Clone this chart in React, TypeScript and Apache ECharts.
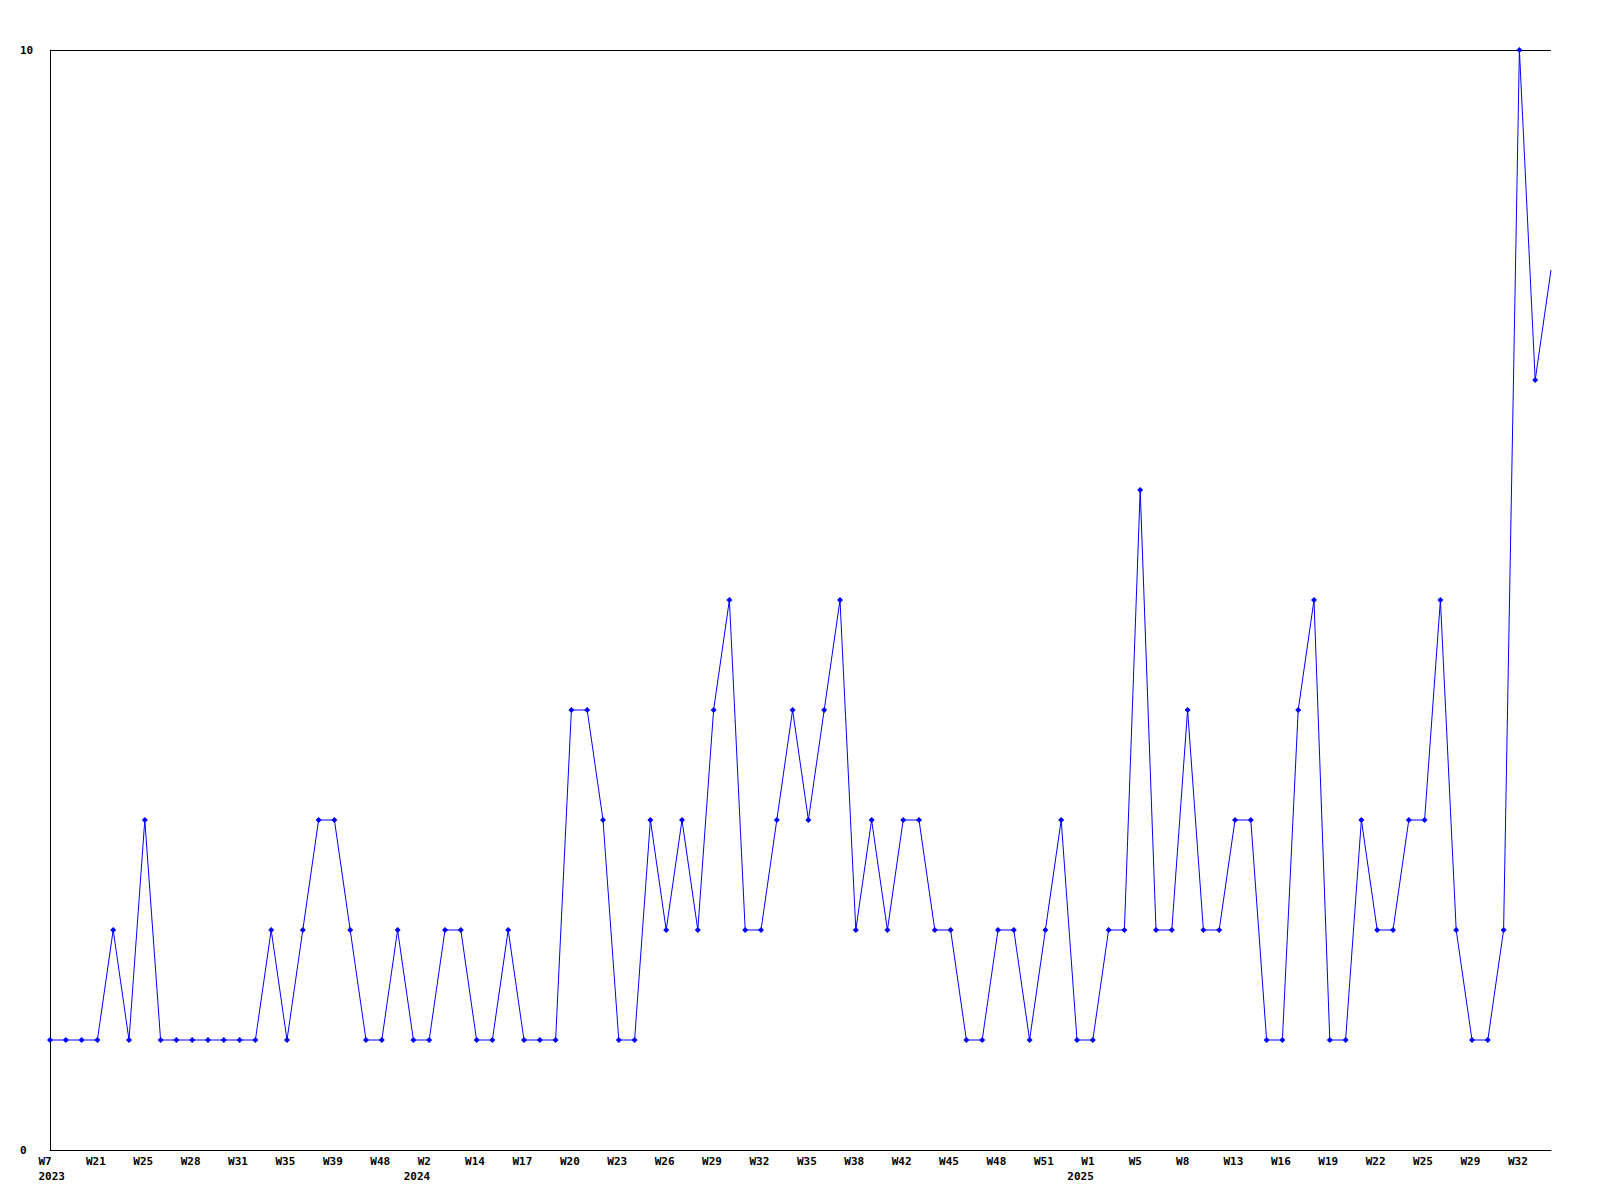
import { useEffect, useRef } from "react";
import * as echarts from "echarts";

// Week categories (only weeks that have data), grouped by year
const weeks2023 = ["W7","W15","W19","W21","W22","W24","W25","W26","W27","W28","W29","W30","W31","W32","W34","W35","W36","W37","W39","W41","W45","W48","W50","W52"];
const weeks2024 = ["W2","W6","W10","W14","W15","W16","W17","W18","W19","W20","W21","W22","W23","W24","W25","W26","W27","W28","W29","W30","W31","W32","W33","W34","W35","W36","W37","W38","W39","W41","W42","W43","W44","W45","W46","W47","W48","W49","W50","W51","W52","W53"];
const weeks2025 = ["W1","W2","W4","W5","W6","W7","W8","W10","W12","W13","W14","W15","W16","W17","W18","W19","W20","W21","W22","W23","W24","W25","W26","W28","W29","W30","W31","W32","W33","W34"];

// Weekly counts
const counts = [
  1, 1, 1, 1, 2, 1, 3, 1, 1, 1,
  1, 1, 1, 1, 2, 1, 2, 3, 3, 2,
  1, 1, 2, 1, 1, 2, 2, 1, 1, 2,
  1, 1, 1, 4, 4, 3, 1, 1, 3, 2,
  3, 2, 4, 5, 2, 2, 3, 4, 3, 4,
  5, 2, 3, 2, 3, 3, 2, 2, 1, 1,
  2, 2, 1, 2, 3, 1, 1, 2, 2, 6,
  2, 2, 4, 2, 2, 3, 3, 1, 1, 4,
  5, 1, 1, 3, 2, 2, 3, 3, 5, 2,
  1, 1, 2, 10, 7, 8,
];

const yMin = 0;
const yMax = 10;

const categories = [
  ...weeks2023.map((w) => `2023-${w}`),
  ...weeks2024.map((w) => `2024-${w}`),
  ...weeks2025.map((w) => `2025-${w}`),
];

const FONT = "'DejaVu Sans Mono', 'Liberation Mono', monospace";

export default function App() {
  const ref = useRef<HTMLDivElement>(null);

  useEffect(() => {
    if (!ref.current) return;
    const chart = echarts.init(ref.current, null, { renderer: "svg" });

    const labelStyle = {
      color: "#000",
      fontFamily: FONT,
      fontWeight: "bold" as const,
      fontSize: 11,
    };

    chart.setOption({
      animation: false,
      backgroundColor: "#fff",
      grid: { left: 50, right: 49, top: 50, bottom: 50, containLabel: false },
      xAxis: [
        {
          type: "category",
          data: categories,
          boundaryGap: false,
          position: "bottom",
          axisLine: { show: true, lineStyle: { color: "#000", width: 1 } },
          axisTick: { show: false },
          splitLine: { show: false },
          axisLabel: {
            ...labelStyle,
            interval: 2,
            margin: 6,
            align: "center",
            formatter: (v: string) => `{w|${v.split("-")[1]}}`,
            rich: { w: { ...labelStyle, width: 23, align: "left" } },
          },
        },
        {
          type: "category",
          data: categories,
          boundaryGap: false,
          position: "bottom",
          offset: 15,
          axisLine: { show: false },
          axisTick: { show: false },
          splitLine: { show: false },
          axisLabel: {
            ...labelStyle,
            interval: 0,
            margin: 6,
            align: "center",
            formatter: (v: string, i: number) => {
              const y = v.split("-")[0];
              const prev = i > 0 ? categories[i - 1].split("-")[0] : null;
              if (prev === y) return "";
              return i === 0 ? `{l|${y}}` : `{r|${y}}`;
            },
            rich: {
              l: { ...labelStyle, width: 23, align: "left" },
              r: { ...labelStyle, width: 2, align: "right" },
            },
          },
        },
      ],
      yAxis: {
        type: "value",
        min: yMin,
        max: yMax,
        interval: 10,
        axisLine: { show: true, lineStyle: { color: "#000", width: 1 } },
        axisTick: { show: false },
        splitLine: { show: true, lineStyle: { color: "#000", width: 1 } },
        axisLabel: {
          ...labelStyle,
          align: "left",
          margin: 30,
        },
      },
      series: [
        {
          type: "line",
          xAxisIndex: 0,
          data: counts.map((v, i) =>
            i === counts.length - 1 ? { value: v, symbol: "none" } : v
          ),
          symbol: "diamond",
          symbolSize: 6,
          showAllSymbol: true,
          lineStyle: { color: "#0000ff", width: 1 },
          itemStyle: { color: "#0000ff" },
          emphasis: { disabled: true },
        },
      ],
    });

    return () => chart.dispose();
  }, []);

  return (
    <div
      ref={ref}
      style={{ position: "fixed", left: 0, top: 0, width: 1600, height: 1200, background: "#fff" }}
    />
  );
}
